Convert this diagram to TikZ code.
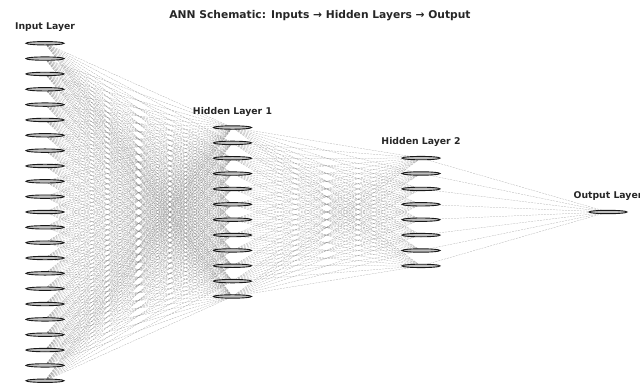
\documentclass[tikz,border=0pt]{standalone}
\usepackage{fontspec}
\setmainfont{DejaVu Sans}
\usetikzlibrary{shapes.geometric,positioning,backgrounds}

\tikzset{
  neuron/.style={ellipse, draw=black!90, fill=gray!50, line width=0.9pt,
    minimum width=38pt, minimum height=3.4pt, inner sep=0pt},
  synapse/.style={gray, line width=0.25pt, dash pattern=on 2pt off 1pt, opacity=0.7},
  layername/.style={font=\bfseries\fontsize{9.3}{10}\selectfont, text=black!85, inner sep=0pt}
}

\begin{document}
\begin{tikzpicture}[x=1pt,y=-1pt]
  \useasboundingbox (0,0) rectangle (640,385);
  \clip (0,0) rectangle (640,385);

  \node[layername, font=\bfseries\fontsize{10.7}{12}\selectfont] (title) at (320,16)
    {ANN Schematic: Inputs → Hidden Layers → Output};

  \foreach \i in {1,...,23}
    \node[neuron] (I\i) at (45,{212+(\i-12)*15.34}) {};
  \foreach \j in {1,...,12}
    \node[neuron] (H\j) at (232.5,{212+(\j-6.5)*15.36}) {};
  \foreach \k in {1,...,8}
    \node[neuron] (G\k) at (421,{212+(\k-4.5)*15.4}) {};
  \node[neuron] (O1) at (608,212) {};

  \node[layername, above=9pt of I1] (in-lbl) {Input Layer};
  \node[layername, above=9pt of H1] (h1-lbl) {Hidden Layer 1};
  \node[layername, above=9pt of G1] (h2-lbl) {Hidden Layer 2};
  \node[layername, above=9pt of O1] (out-lbl) {Output Layer};

  % Connect the layers
  \begin{scope}[on background layer]
    \foreach \i in {1,...,23}
      \foreach \j in {1,...,12}
        \draw[synapse] (I\i.center) -- (H\j.center);
    \foreach \j in {1,...,12}
      \foreach \k in {1,...,8}
        \draw[synapse] (H\j.center) -- (G\k.center);
    \foreach \k in {1,...,8}
      \draw[synapse] (G\k.center) -- (O1.center);
  \end{scope}
\end{tikzpicture}
\end{document}
